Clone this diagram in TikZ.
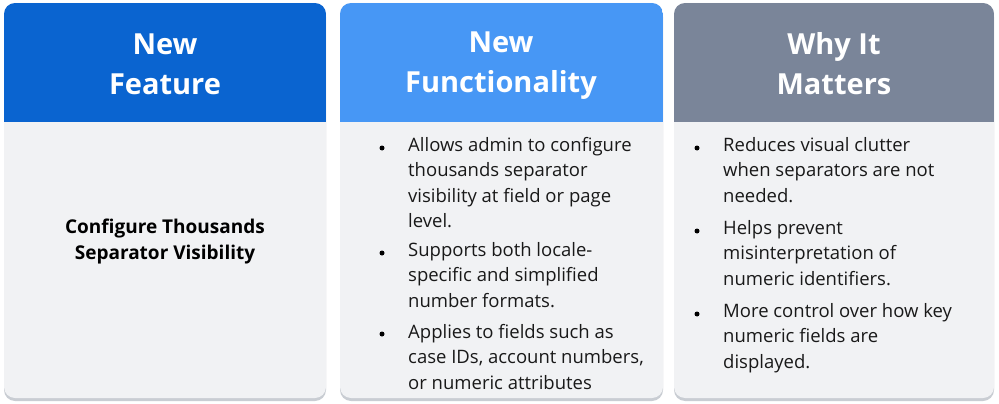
\documentclass[tikz,border=0pt]{standalone}
\usepackage{fontspec}
\setmainfont{Open Sans}
\begin{document}
\begin{tikzpicture}[x=1pt,y=-1pt,
  hd/.style={font=\fontsize{29}{40}\selectfont\bfseries, text=white, align=center},
  bt/.style={font=\fontsize{18.5}{25.5}\selectfont, text=black!90, align=left, anchor=north west, inner sep=0pt},
  dot/.style={circle, fill=black, inner sep=0pt, minimum size=5pt}]
\definecolor{c1}{HTML}{0A64D0}
\definecolor{c2}{HTML}{4797F5}
\definecolor{c3}{HTML}{7A8599}
\definecolor{bd}{HTML}{F1F2F4}
\definecolor{sh}{HTML}{C9CDD3}
\useasboundingbox (0,0) rectangle (999,404);
\fill[white] (0,0) rectangle (999,404);
\foreach \a/\b/\c in {4/326/c1,340/663/c2,674/994/c3}{
  \fill[sh, rounded corners=11pt] (\a,6) rectangle (\b,401);
  \fill[bd, rounded corners=11pt] (\a,3) rectangle (\b,398);
  \begin{scope}
    \clip[rounded corners=11pt] (\a,3) rectangle (\b,398);
    \fill[\c] (\a,3) rectangle (\b,122);
  \end{scope}
}
\node[hd] (h1) at (165,64) {New\\Feature};
\node[hd] (h2) at (501,66) {New\\Functionality};
\node[hd] (h3) at (834,64) {Why It\\Matters};
\node[font=\fontsize{19}{26}\selectfont\bfseries, align=center] (f) at (165,242) {Configure Thousands\\Separator Visibility};
% column 2
\node[dot] (d21) at (382,148) {};
\node[bt] (t21) at (408,137) {Allows admin to configure\\thousands separator\\visibility at field or page\\level.};
\node[dot] (d22) at (382,253) {};
\node[bt] (t22) at (408,242) {Supports both locale-\\specific and simplified\\number formats.};
\node[dot] (d23) at (382,334) {};
\node[bt] (t23) at (408,324) {Applies to fields such as\\case IDs, account numbers,\\or numeric attributes};
% column 3
\node[dot] (d31) at (697,148) {};
\node[bt] (t31) at (723,137) {Reduces visual clutter\\when separators are not\\needed.};
\node[dot] (d32) at (697,231) {};
\node[bt] (t32) at (723,220) {Helps prevent\\misinterpretation of\\numeric identifiers.};
\node[dot] (d33) at (697,314) {};
\node[bt] (t33) at (723,303) {More control over how key\\numeric fields are\\displayed.};
\end{tikzpicture}
\end{document}
